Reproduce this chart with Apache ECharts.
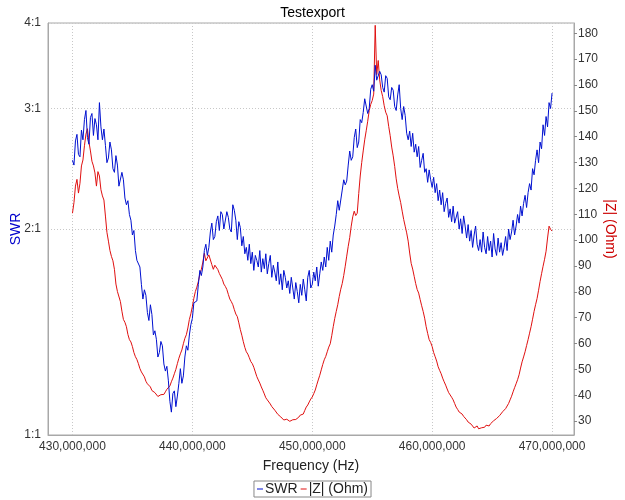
<!DOCTYPE html>
<html>
<head>
<meta charset="utf-8">
<script src="https://cdn.jsdelivr.net/npm/echarts@6/dist/echarts.min.js"></script>
<style>html,body{margin:0;padding:0;background:#fff}#c{width:625px;height:500px}</style>
</head>
<body>
<div id="c"></div>
<script>
const titleText = 'Testexport';
const freqMHz = [
430,430.125,430.25,430.375,430.5,430.625,430.75,430.875,431,431.125,431.25,431.375,431.5,431.625,431.75,431.875,
432,432.125,432.25,432.375,432.5,432.625,432.75,432.875,433,433.125,433.25,433.375,433.5,433.625,433.75,433.875,
434,434.125,434.25,434.375,434.5,434.625,434.75,434.875,435,435.125,435.25,435.375,435.5,435.625,435.75,435.875,
436,436.125,436.25,436.375,436.5,436.625,436.75,436.875,437,437.125,437.25,437.375,437.5,437.625,437.75,437.875,
438,438.125,438.25,438.375,438.5,438.625,438.75,438.875,439,439.125,439.25,439.375,439.5,439.625,439.75,439.875,
440,440.125,440.25,440.375,440.5,440.625,440.75,440.875,441,441.125,441.25,441.375,441.5,441.625,441.75,441.875,
442,442.125,442.25,442.375,442.5,442.625,442.75,442.875,443,443.125,443.25,443.375,443.5,443.625,443.75,443.875,
444,444.125,444.25,444.375,444.5,444.625,444.75,444.875,445,445.125,445.25,445.375,445.5,445.625,445.75,445.875,
446,446.125,446.25,446.375,446.5,446.625,446.75,446.875,447,447.125,447.25,447.375,447.5,447.625,447.75,447.875,
448,448.125,448.25,448.375,448.5,448.625,448.75,448.875,449,449.125,449.25,449.375,449.5,449.625,449.75,449.875,
450,450.125,450.25,450.375,450.5,450.625,450.75,450.875,451,451.125,451.25,451.375,451.5,451.625,451.75,451.875,
452,452.125,452.25,452.375,452.5,452.625,452.75,452.875,453,453.125,453.25,453.375,453.5,453.625,453.75,453.875,
454,454.125,454.25,454.375,454.5,454.625,454.75,454.875,455,455.125,455.25,455.375,455.5,455.625,455.75,455.875,
456,456.125,456.25,456.375,456.5,456.625,456.75,456.875,457,457.125,457.25,457.375,457.5,457.625,457.75,457.875,
458,458.125,458.25,458.375,458.5,458.625,458.75,458.875,459,459.125,459.25,459.375,459.5,459.625,459.75,459.875,
460,460.125,460.25,460.375,460.5,460.625,460.75,460.875,461,461.125,461.25,461.375,461.5,461.625,461.75,461.875,
462,462.125,462.25,462.375,462.5,462.625,462.75,462.875,463,463.125,463.25,463.375,463.5,463.625,463.75,463.875,
464,464.125,464.25,464.375,464.5,464.625,464.75,464.875,465,465.125,465.25,465.375,465.5,465.625,465.75,465.875,
466,466.125,466.25,466.375,466.5,466.625,466.75,466.875,467,467.125,467.25,467.375,467.5,467.625,467.75,467.875,
468,468.125,468.25,468.375,468.5,468.625,468.75,468.875,469,469.125,469.25,469.375,469.5,469.625,469.75,469.875,
470];
const swr = [
2.52,2.48,2.69,2.75,2.57,2.55,2.79,2.70,2.89,2.98,2.72,2.66,2.91,2.95,2.74,2.90,
2.84,2.70,3.06,2.82,2.70,2.80,2.65,2.50,2.54,2.68,2.61,2.45,2.42,2.56,2.48,2.31,
2.30,2.42,2.36,2.22,2.17,2.20,2.10,2.06,1.96,1.99,1.86,1.80,1.79,1.76,1.66,1.58,
1.63,1.60,1.51,1.47,1.55,1.50,1.40,1.42,1.38,1.30,1.32,1.37,1.35,1.27,1.24,1.26,
1.20,1.12,1.08,1.15,1.16,1.10,1.14,1.19,1.25,1.19,1.22,1.30,1.35,1.33,1.40,1.45,
1.48,1.56,1.55,1.57,1.66,1.74,1.71,1.76,1.86,1.90,1.83,1.88,1.98,2.04,1.93,1.95,
2.05,2.09,1.99,2.12,2.10,2.00,2.01,2.12,2.08,2.00,1.98,2.17,2.13,2.06,1.93,2.05,
2.01,1.89,1.95,1.84,1.88,1.80,1.90,1.78,1.85,1.74,1.83,1.80,1.76,1.86,1.73,1.81,
1.75,1.84,1.72,1.78,1.83,1.70,1.77,1.73,1.68,1.79,1.66,1.72,1.63,1.74,1.70,1.64,
1.68,1.61,1.70,1.64,1.58,1.67,1.62,1.56,1.66,1.60,1.69,1.63,1.57,1.70,1.74,1.64,
1.66,1.73,1.68,1.76,1.65,1.72,1.79,1.74,1.82,1.76,1.88,1.80,1.92,1.85,1.96,2.02,
2.10,2.20,2.13,2.14,2.28,2.36,2.32,2.35,2.48,2.60,2.52,2.55,2.72,2.80,2.63,2.68,
2.89,2.86,2.96,3.10,3.09,2.95,3.00,3.20,3.25,3.18,3.47,3.30,3.28,3.40,3.36,3.22,
3.17,3.35,3.32,3.12,3.09,3.22,3.19,3.02,2.98,3.14,3.25,3.00,2.89,3.02,2.93,2.76,
2.70,2.78,2.64,2.76,2.59,2.66,2.55,2.64,2.46,2.52,2.58,2.42,2.45,2.34,2.44,2.36,
2.30,2.38,2.26,2.33,2.20,2.28,2.17,2.26,2.12,2.18,2.22,2.08,2.14,2.05,2.16,2.04,
2.03,2.12,2.00,2.07,1.97,2.09,2.02,1.94,2.03,1.92,1.99,1.88,1.96,2.02,1.90,1.86,
1.93,1.85,1.98,1.88,1.84,1.95,1.86,1.92,1.82,1.97,1.87,1.83,1.94,1.85,1.91,1.83,
1.88,1.95,1.86,2.00,1.93,1.98,2.06,1.96,2.02,2.10,2.04,2.16,2.09,2.18,2.24,2.15,
2.26,2.33,2.28,2.45,2.40,2.52,2.61,2.50,2.68,2.62,2.84,2.74,2.92,2.82,3.06,3.00,
3.16];
const impedance = [
110.4,114.5,120.9,123.5,118.2,122.0,128.7,131.0,136.5,141.0,143.1,138.0,134.5,130.5,128.7,126.0,
120.9,126.5,124.8,119.5,117.1,115.5,109.3,103.0,99.6,96.0,93.7,92.0,88.7,83.0,80.1,79.5,
76.2,72.5,69.3,68.2,66.5,63.5,61.5,60.6,58.8,56.5,54.9,53.8,52.2,50.3,49.0,48.4,
47.1,45.4,44.4,44.0,43.2,41.8,41.3,41.0,40.5,39.5,39.3,40.2,40.1,40.3,41.3,42.3,
42.8,43.6,45.2,46.6,48.3,50.0,52.2,54.3,56.0,57.5,59.9,62.0,63.4,66.0,69.3,71.5,
74.3,77.5,80.1,81.8,84.0,86.8,88.7,91.5,94.9,92.0,92.6,94.3,93.7,90.5,88.7,90.3,
91.0,88.6,87.1,86.4,84.8,83.0,82.1,80.9,79.0,77.2,76.2,75.0,73.1,71.4,70.4,68.0,
65.4,63.2,60.7,58.5,56.8,55.9,54.5,53.0,52.2,50.8,49.0,47.2,45.9,44.7,43.2,41.9,
40.5,39.0,38.2,37.5,36.6,35.6,35.1,34.2,33.5,32.6,31.9,31.6,31.2,30.4,30.0,30.7,
30.8,29.9,29.6,30.5,31.2,30.6,30.4,31.5,32.3,32.0,32.7,34.1,35.4,36.2,37.4,38.5,
39.3,40.6,42.0,44.0,45.9,47.7,49.8,51.9,53.7,55.0,56.8,58.6,59.9,63.0,66.5,69.7,
72.4,75.0,78.2,81.0,83.2,86.3,89.9,93.8,97.6,101.0,105.4,109.0,111.2,109.5,110.4,118.0,
124.8,130.0,134.5,138.8,142.3,146.0,150.1,152.5,154.0,156.5,183.1,164.0,169.5,162.0,157.9,155.5,
152.0,149.5,148.1,144.0,140.4,136.0,132.6,128.5,123.7,120.0,117.1,114.5,111.2,108.0,105.4,102.8,
99.6,95.0,91.0,88.8,86.0,83.2,80.9,79.5,77.0,74.6,72.4,69.8,66.5,63.9,61.5,60.4,
58.8,56.5,54.9,53.2,51.0,49.6,48.3,46.6,45.2,43.9,42.4,41.0,40.1,39.2,38.2,36.8,
35.4,34.5,33.5,33.1,32.7,31.8,31.2,30.5,29.6,29.0,28.8,28.1,27.3,27.8,28.1,27.0,
26.5,27.4,26.9,27.6,28.4,28.0,28.1,29.0,29.6,30.1,30.4,31.0,31.6,32.1,32.7,33.6,
34.3,34.8,35.4,36.8,38.2,39.6,41.3,42.9,44.4,46.0,47.9,50.5,52.9,54.8,56.8,59.2,
61.5,64.0,66.5,69.4,72.4,75.0,77.4,80.6,84.0,87.0,89.9,92.6,95.7,100.8,105.4,104.2,
103.5];
const xTicksHz = [430000000,440000000,450000000,460000000,470000000];
const swrTicks = [1,2,3,4];
const zTicks = [30,40,50,60,70,80,90,100,110,120,130,140,150,160,170,180];

const swrData = freqMHz.map((f,i)=>[f*1e6, swr[i]]);
const zData = freqMHz.map((f,i)=>[f*1e6, impedance[i]]);
const fmtHz = v => String(Math.round(v)).replace(/\B(?=(\d{3})+(?!\d))/g, ',');
const font = 'Liberation Sans, Arial, sans-serif';

const chart = echarts.init(document.getElementById('c'), null, {renderer:'canvas'});
chart.setOption({
  animation:false,
  backgroundColor:'#fff',
  title:{text:titleText,left:'center',top:1,textStyle:{fontFamily:font,fontSize:14,fontWeight:'normal',color:'#000'}},
  grid:{left:48,right:51,top:23,bottom:65,outerBoundsMode:'none',containLabel:false,show:true,borderColor:'#a8a8a8',borderWidth:1,backgroundColor:'#fff'},
  legend:{
    data:['SWR','|Z| (Ohm)'],bottom:3,left:'center',
    icon:'rect',itemWidth:6,itemHeight:1,itemGap:3,
    borderColor:'#888',borderWidth:1,padding:[1,3,1,3],
    textStyle:{fontFamily:font,fontSize:14,color:'#222',padding:[0,0,0,-3]}
  },
  xAxis:{
    type:'value',min:427960000,max:471830000,
    name:'Frequency (Hz)',nameLocation:'middle',nameGap:24,nameMoveOverlap:false,
    nameTextStyle:{fontFamily:font,fontSize:14,color:'#222'},
    axisLine:{show:true,lineStyle:{color:'#a8a8a8'}},
    axisTick:{show:false,customValues:xTicksHz},
    axisLabel:{customValues:xTicksHz,formatter:fmtHz,fontFamily:font,fontSize:12,color:'#333',margin:6},
    splitLine:{show:true,lineStyle:{color:'#c8c8c8',type:[1,2]}}
  },
  yAxis:[
    {
      type:'log',logBase:10,min:1,max:4,position:'left',
      name:'SWR',nameLocation:'middle',nameGap:25,nameRotate:90,nameMoveOverlap:false,
      nameTextStyle:{fontFamily:font,fontSize:14,color:'#0000cc'},
      axisLine:{show:true,lineStyle:{color:'#a8a8a8'}},
      axisTick:{show:false,customValues:swrTicks},
      axisLabel:{customValues:swrTicks,formatter:v=>Math.round(v)+':1',fontFamily:font,fontSize:12,color:'#333',margin:7},
      splitLine:{show:true,lineStyle:{color:'#c8c8c8',type:[1,2]}}
    },
    {
      type:'value',min:24.6,max:184,position:'right',
      name:'|Z| (Ohm)',nameLocation:'middle',nameGap:29,nameRotate:-90,nameMoveOverlap:false,
      nameTextStyle:{fontFamily:font,fontSize:14,color:'#cc0000'},
      axisLine:{show:true,lineStyle:{color:'#a8a8a8'}},
      axisTick:{show:true,length:3,customValues:zTicks,lineStyle:{color:'#888'}},
      axisLabel:{customValues:zTicks,fontFamily:font,fontSize:12,color:'#333',margin:4},
      splitLine:{show:false}
    }
  ],
  series:[
    {name:'SWR',type:'line',yAxisIndex:0,data:swrData,showSymbol:false,z:3,
     lineStyle:{width:1,color:'#0010d0'},itemStyle:{color:'#0010d0'}},
    {name:'|Z| (Ohm)',type:'line',yAxisIndex:1,data:zData,showSymbol:false,z:2,
     lineStyle:{width:1,color:'#e01010'},itemStyle:{color:'#e01010'}}
  ]
});
</script>
</body>
</html>
